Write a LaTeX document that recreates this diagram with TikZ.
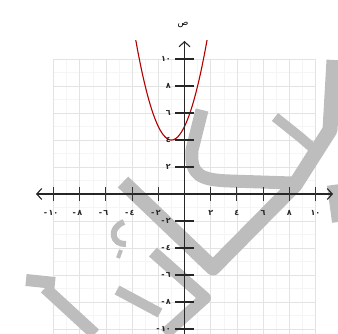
\documentclass[tikz,border=0pt]{standalone}
\usepackage{fontspec}
\newfontfamily\arabicfont[Script=Arabic]{DejaVu Sans}
\usetikzlibrary{arrows.meta}
\begin{document}
\begin{tikzpicture}[x=1pt,y=-1pt,
  >={Straight Barb[length=5pt,width=11pt,line width=1.1pt]},
  minorgrid/.style={draw=black!4,line width=0.5pt},
  majorgrid/.style={draw=black!11,line width=0.8pt},
  wm/.style={draw=black!26,line width=15pt,line cap=butt,line join=round},
  axisline/.style={draw=black!85,line width=1.3pt},
  xtick/.style={draw=black!80,line width=1pt},
  ytick/.style={draw=black!85,line width=1.8pt},
  numlbl/.style={font=\arabicfont\bfseries\fontsize{8}{9}\selectfont,inner sep=0pt,text=black!85},
  curve/.style={draw=red!70!black,line width=1.1pt}]
\useasboundingbox (0,0) rectangle (338,334);
% grid
\foreach \i in {-10,...,10} {
  \draw[minorgrid] ({184.5+13.1*\i},59) -- ({184.5+13.1*\i},334);
  \draw[minorgrid] (53,{194-13.5*\i}) -- (315.5,{194-13.5*\i});
}
\foreach \i in {-10,-8,...,10} {
  \draw[majorgrid] ({184.5+13.1*\i},59) -- ({184.5+13.1*\i},334);
  \draw[majorgrid] (53,{194-13.5*\i}) -- (315.5,{194-13.5*\i});
}
% watermark
\draw[wm] (123,182) -- (213,268) -- (295,185) -- (330,130) -- (334,60);
\draw[wm,line width=13pt] (202,110) -- (192,150) .. controls (190,175) and (200,180) .. (230,181) -- (292,183);
\draw[wm,line width=10pt] (275,117) -- (300,137) -- (315,150);
\draw[wm,line width=12pt] (333,185) -- (338,222);
\draw[wm,line width=12pt] (26,280) -- (55,283);
\draw[wm,line width=12pt] (45,288) -- (95,334);
\draw[wm,line width=12pt] (153,252) -- (205,298) -- (165,334);
\draw[wm,line width=10pt] (117,290) -- (160,313);
\draw[wm,line width=6pt] (124,222) .. controls (108,228) and (112,245) .. (126,244);
\draw[wm,line width=4pt] (121,250) -- (118,258);
% parabola
\draw[curve] plot[domain=-3.72:1.72,samples=60,smooth] ({184.5+13.1*\x},{194-13.5*(\x*\x+2*\x+5)});
% axes
\coordinate (xl) at (36,194);
\coordinate (xr) at (333,194);
\coordinate (yb) at (184.5,334);
\coordinate (yt) at (184.5,41);
\draw[axisline,<->] (xl) -- (xr);
\draw[axisline,->] (yb) -- (yt);
\node[font=\arabicfont\fontsize{9}{10}\selectfont,inner sep=0pt] (ylab) at (183,25) {ص};
% ticks and labels
\foreach \v/\t in {2/٢,4/٤,6/٦,8/٨,10/١٠} {
  \draw[xtick] ({184.5+13.1*\v},187) -- ({184.5+13.1*\v},201);
  \draw[xtick] ({184.5-13.1*\v},187) -- ({184.5-13.1*\v},201);
  \draw[ytick] (175,{194-13.5*\v}) -- (194,{194-13.5*\v});
  \draw[ytick] (175,{194+13.5*\v}) -- (194,{194+13.5*\v});
  \node[numlbl] (xp\v) at ({184.5+13.1*\v},213) {\t};
  \node[numlbl] (xn\v) at ({184.5-13.1*\v},213) {\llap{-\,}\t};
  \node[numlbl,anchor=east] (yp\v) at (171,{194-13.5*\v}) {\t};
  \node[numlbl,anchor=east] (yn\v) at (171,{194+13.5*\v}) {-\,\t};
}
\end{tikzpicture}
\end{document}
